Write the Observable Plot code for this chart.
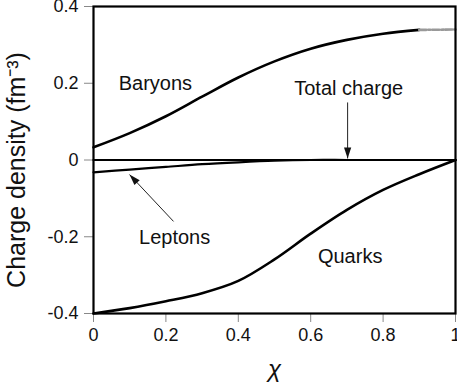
<!DOCTYPE html>
<html>
<head>
<meta charset="utf-8">
<script src="https://cdn.jsdelivr.net/npm/d3@7"></script>
<script src="https://cdn.jsdelivr.net/npm/@observablehq/plot@0.6"></script>
<style>
  html, body { margin: 0; padding: 0; background: #fff; }
  #chart { width: 457px; height: 382px; }
</style>
</head>
<body>
<div id="chart"></div>
<script>
// ---- data ----
const chi      = [0, 0.1, 0.2, 0.3, 0.4, 0.5, 0.6, 0.7, 0.8, 0.9, 1.0];
const baryons  = [0.033, 0.070, 0.114, 0.165, 0.215, 0.257, 0.290, 0.313, 0.329, 0.339];
const baryonTailChi = [0.9, 1.0];
const baryonTail    = [0.339, 0.340];
const quarks   = [-0.400, -0.386, -0.368, -0.347, -0.315, -0.259, -0.192, -0.130, -0.078, -0.037, 0.0];
const leptons  = [-0.032, -0.025, -0.018, -0.011, -0.006, -0.002, 0, 0, 0, 0, 0];
const total    = [0, 0, 0, 0, 0, 0, 0, 0, 0, 0, 0];

const xTicks = [0, 0.2, 0.4, 0.6, 0.8, 1];
const xTickLabels = ["0", "0.2", "0.4", "0.6", "0.8", "1"];
const yTicks = [-0.4, -0.2, 0, 0.2, 0.4];
const yTickLabels = ["-0.4", "-0.2", "0", "0.2", "0.4"];

const labelText = ["Baryons", "Total charge", "Leptons", "Quarks"];
const labelX    = [0.171, 0.705, 0.224, 0.709];
const labelY    = [0.199, 0.186, -0.202, -0.253];

const arrowX1 = [0.221, 0.702];
const arrowY1 = [-0.160, 0.150];
const arrowX2 = [0.0995, 0.702];
const arrowY2 = [-0.038, 0.004];

const yTitle = "Charge density (fm\u207B\u00B3)";
const xTitle = "\u03C7";

// ---- layout ----
const W = 457, H = 382;
const M = {top: 6, right: 2, bottom: 69, left: 93};
const font = "'Liberation Sans', Arial, Helvetica, sans-serif";

const series = (xs, ys) => xs.slice(0, ys.length).map((x, i) => ({x, y: ys[i]}));
const arrows = arrowX1.map((_, i) => ({x1: arrowX1[i], y1: arrowY1[i], x2: arrowX2[i], y2: arrowY2[i]}));
const labels = labelText.map((t, i) => ({t, x: labelX[i], y: labelY[i]}));

// pixel-space helpers for head rotation (same domains/ranges as the plot)
const sx = d3.scaleLinear([0, 1], [M.left, W - M.right]);
const sy = d3.scaleLinear([-0.4, 0.4], [H - M.bottom, M.top]);
arrows.forEach(a => {
  const dx = sx(a.x2) - sx(a.x1), dy = sy(a.y2) - sy(a.y1);
  a.angle = Math.atan2(dx, -dy) * 180 / Math.PI;
});

const headSymbol = {
  draw(ctx) {
    ctx.moveTo(0, 0);
    ctx.lineTo(-3.6, 11);
    ctx.lineTo(3.6, 11);
    ctx.closePath();
  }
};

const chart = Plot.plot({
  width: W,
  height: H,
  marginTop: M.top,
  marginRight: M.right,
  marginBottom: M.bottom,
  marginLeft: M.left,
  style: {fontFamily: font, background: "#fff", color: "#000", overflow: "visible"},
  x: {domain: [0, 1]},
  y: {domain: [-0.4, 0.4]},
  marks: [
    Plot.axisX({ticks: xTicks, tickFormat: (d) => xTickLabels[xTicks.indexOf(d)],
      tickSize: 9, tickPadding: 6, fontSize: 18, stroke: "#888", fill: "#111", label: null}),
    Plot.axisY({ticks: yTicks, tickFormat: (d) => yTickLabels[yTicks.indexOf(d)],
      tickSize: 9, tickPadding: 6, fontSize: 18, stroke: "#888", fill: "#111", label: null}),
    Plot.line(series(chi, total), {x: "x", y: "y", stroke: "#000", strokeWidth: 2.2}),
    Plot.line(series(chi, leptons), {x: "x", y: "y", stroke: "#000", strokeWidth: 2.2, curve: "catmull-rom"}),
    Plot.line(series(chi, baryons), {x: "x", y: "y", stroke: "#000", strokeWidth: 2.6, curve: "catmull-rom"}),
    Plot.line(series(baryonTailChi, baryonTail), {x: "x", y: "y", stroke: "#999", strokeWidth: 2.6, strokeDasharray: "7,2,2,2"}),
    Plot.line(series(chi, quarks), {x: "x", y: "y", stroke: "#000", strokeWidth: 2.6, curve: "catmull-rom"}),
    Plot.link(arrows, {x1: "x1", y1: "y1", x2: "x2", y2: "y2", stroke: "#222", strokeWidth: 1}),
    Plot.dot(arrows, {x: "x2", y: "y2", symbol: headSymbol, rotate: "angle", fill: "#111", stroke: "none"}),
    Plot.text(labels, {x: "x", y: "y", text: "t", fontSize: 20, fill: "#111", textAnchor: "middle"}),
    Plot.text([yTitle], {frameAnchor: "left", y: [0], text: d => d, rotate: -90, dx: -77, dy: 10,
      fontSize: 25, fill: "#111", textAnchor: "middle", lineAnchor: "middle"}),
    Plot.text([xTitle], {frameAnchor: "bottom", x: [0.5], text: d => d, dy: 56,
      fontSize: 24, fontStyle: "italic", fill: "#111", textAnchor: "middle", lineAnchor: "middle"}),
    Plot.frame({stroke: "#000", strokeWidth: 2.2})
  ]
});
document.getElementById("chart").appendChild(chart);
</script>
</body>
</html>
